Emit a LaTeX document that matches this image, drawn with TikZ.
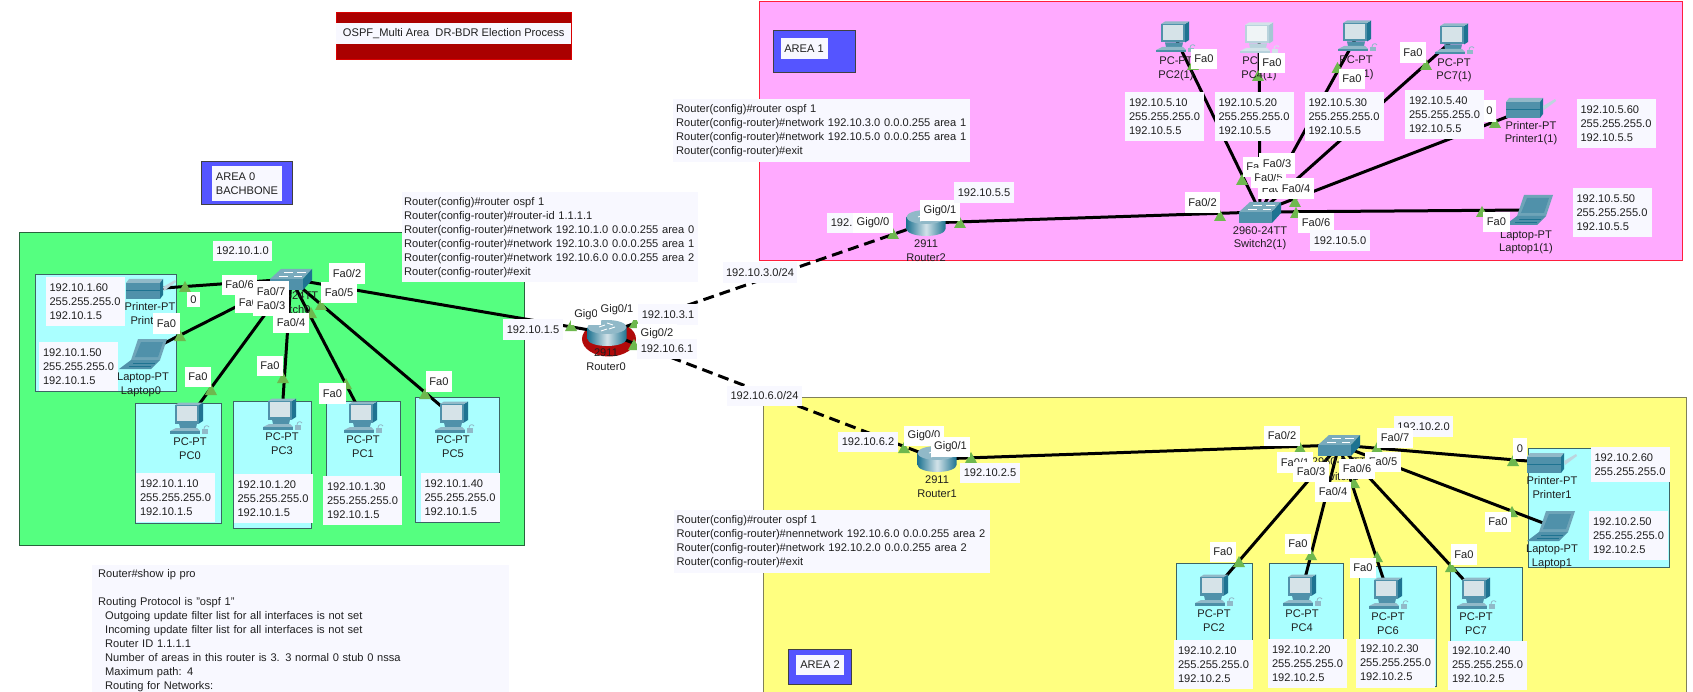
\documentclass[tikz,border=0pt]{standalone}
\usepackage{fontspec}
\setmainfont{Liberation Sans}
\begin{document}
\begin{tikzpicture}[x=1pt,y=-1pt,
  every node/.style={font=\fontsize{11.1}{14}\selectfont,text=black!88},
  areabox/.style={line width=1pt},
  tagbox/.style={draw=black!75,line width=1pt,fill=tagBlue},
  hostbox/.style={draw=hostEdge,line width=1pt,fill=hostCyan},
  lan/.style={line width=3pt,black},
  wan/.style={line width=3pt,black,dash pattern=on 11pt off 6pt},
  devtext/.style={inner sep=0pt},
  portlabel/.style={fill=white,inner xsep=3.5pt,inner ysep=0pt,minimum height=20.5pt},
  addrlabel/.style={fill=ghostBg,inner xsep=3.5pt,inner ysep=0pt,minimum height=20.5pt},
  iplabel/.style={fill=ghostBg,align=left,inner xsep=3.5pt,inner ysep=0pt,minimum width=79pt,minimum height=49pt},
  cfglabel/.style={fill=ghostBg,align=left,anchor=north west,inner xsep=3pt,inner ysep=3pt},
  upmark/.pic={\fill[markGreen] (0,-6) -- (6,5) -- (-6,5) -- cycle;},
  pcicon/.pic={
    \fill[iconDark] (10,-13) -- (14,-15.5) -- (14,3) -- (10,5.5) -- cycle;
    \fill[iconLite] (-14,-13) -- (-10,-15.5) -- (14,-15.5) -- (10,-13) -- cycle;
    \fill[iconMid] (-14,-13) rectangle (10,5.5);
    \fill[iconScreen] (-12,-12) rectangle (8,3);
    \fill[iconMid] (-10,5.5) -- (8,5.5) -- (7,10) -- (-9,10) -- cycle;
    \fill[iconLite] (-13,10) -- (8,10) -- (11,13) -- (-19,13) -- cycle;
    \fill[iconDark!80] (-19,13) rectangle (11,15.5);
    \fill[iconLite] (13,11) rectangle (19,15.5);
    \draw[iconLite,line width=0.8pt] (15,11) .. controls (15,7) and (19,7) .. (20,9);
  },
  switchicon/.pic={
    \fill[iconLite!80!iconDark] (-21,0) -- (-10,-10) -- (21,-10) -- (12,0) -- cycle;
    \fill[iconMid] (-21,0) rectangle (12,11);
    \fill[iconDark] (12,0) -- (21,-10) -- (21,1) -- (12,11) -- cycle;
    \draw[white,line width=0.7pt] (-12,-3) -- (-3,-3) (-7,-7) -- (2,-7) (3,-3) -- (11,-3) (6,-7) -- (15,-7);
  },
  routericon/.pic={
    \shade[left color=iconDark,right color=iconDark,middle color=white!60!iconLite] (-19.5,-6) -- (-19.5,6) arc[x radius=19.5,y radius=7,start angle=180,end angle=0] -- (19.5,-6) -- cycle;
    \fill[iconLite] (0,-6) ellipse[x radius=19.5,y radius=7];
    \draw[white,line width=0.8pt] (-8,-6) -- (-2,-8) (2,-4) -- (8,-6) (-6,-2) -- (0,-4) (0,-10) -- (6,-8);
  },
  printericon/.pic={
    \fill[iconLite] (-24,-6) -- (-21,-10) -- (13,-10) -- (10,-6) -- cycle;
    \fill[iconMid] (-24,-6) rectangle (10,10);
    \fill[iconDark] (10,-6) -- (13,-10) -- (13,6) -- (10,10) -- cycle;
    \draw[iconDark,line width=0.6pt] (-24,1) -- (10,1);
    \fill[iconLite!60] (13,-2) -- (25,-9) -- (26,-7) -- (14,2) -- cycle;
  },
  laptopicon/.pic={
    \fill[iconLite!70!iconDark] (-5,-15) -- (24,-15) -- (17,6) -- (-12,6) -- cycle;
    \fill[iconMid] (-2,-12) -- (20,-12) -- (15,3) -- (-8,3) -- cycle;
    \fill[iconMid] (-12,6) -- (17,6) -- (8,15) -- (-24,15) -- cycle;
    \draw[iconDark,line width=0.6pt] (-10,9) -- (12,9) (-14,12) -- (8,12);
  }]
\definecolor{tagBlue}{RGB}{85,85,255}
\definecolor{hostCyan}{RGB}{170,255,255}
\definecolor{hostEdge}{RGB}{60,100,100}
\definecolor{ghostBg}{RGB}{248,248,255}
\definecolor{markGreen}{RGB}{110,184,78}
\definecolor{iconDark}{RGB}{30,115,145}
\definecolor{iconMid}{RGB}{80,145,170}
\definecolor{iconLite}{RGB}{145,185,200}
\definecolor{iconScreen}{RGB}{214,227,232}
\definecolor{titleRed}{RGB}{170,0,0}
\path[use as bounding box,fill=white] (0,0) rectangle (1693,692);

% areas
\draw[areabox,fill={rgb,255:red,85;green,255;blue,128},draw={rgb,255:red,40;green,100;blue,60}] (19,233) rectangle (524,545);
\draw[areabox,fill={rgb,255:red,255;green,170;blue,255},draw={rgb,255:red,255;green,30;blue,60}] (759,2) rectangle (1682,261);
\draw[areabox,fill={rgb,255:red,255;green,255;blue,128},draw={rgb,255:red,128;green,128;blue,90}] (763,397) rectangle (1686,700);

% title and area tags
\draw[fill=titleRed,draw=red!85!black,line width=0.8pt] (336,12) rectangle (571.5,59);
\node[fill=ghostBg,minimum width=235pt,minimum height=21pt,inner sep=0pt] (title) at (453.7,33.5) {OSPF\_Multi Area\ \ DR-BDR Election Process};
\draw[tagbox] (201,162) rectangle (292.5,205);
\node[fill=ghostBg,align=left,minimum width=70pt,minimum height=35pt,inner sep=0pt] (areazero) at (247,183.5) {AREA 0\\BACHBONE};
\draw[tagbox] (773,31) rectangle (855,73);
\node[fill=ghostBg,minimum width=47pt,minimum height=21pt,inner sep=0pt] (areaone) at (804,48.5) {AREA 1};
\draw[tagbox] (788,649) rectangle (851,684);
\node[fill=ghostBg,minimum width=48pt,minimum height=20pt,inner sep=0pt] (areatwo) at (820,665) {AREA 2};

% host boxes
\draw[hostbox] (35,275) rectangle (176.5,391);
\draw[hostbox] (135,403) rectangle (221,523);
\draw[hostbox] (233,401) rectangle (311,528);
\draw[hostbox] (326,401) rectangle (400,520);
\draw[hostbox] (415,397) rectangle (499,522);
\draw[hostbox] (1176,563) rectangle (1252,686);
\draw[hostbox] (1269,563) rectangle (1343,686);
\draw[hostbox] (1359,566) rectangle (1436,686);
\draw[hostbox] (1450,567) rectangle (1522,686);
\draw[hostbox] (1528,448) rectangle (1669,567);

% device positions
\coordinate (router0) at (607,333);
\coordinate (router1) at (937,459);
\coordinate (router2) at (926,223);
\coordinate (switch0) at (291,279);
\coordinate (switch1) at (1339,445);
\coordinate (switch2) at (1260,212);
\coordinate (pc0) at (189,418);
\coordinate (pc3) at (282,414);
\coordinate (pc1) at (363,417);
\coordinate (pc5) at (454,417);
\coordinate (printer0) at (150,289);
\coordinate (laptop0) at (143,354);
\coordinate (pc2) at (1214,590);
\coordinate (pc4) at (1302,590);
\coordinate (pc6) at (1388,593);
\coordinate (pc7) at (1476,593);
\coordinate (printer1) at (1551,463);
\coordinate (laptop1) at (1551,526);
\coordinate (pc2b) at (1175,37);
\coordinate (pc4b) at (1259,38);
\coordinate (pc6b) at (1357,36);
\coordinate (pc7b) at (1454,39);
\coordinate (printer1b) at (1530,108);
\coordinate (laptop1b) at (1529,210);

\fill[fill={rgb,255:red,176;green,10;blue,10}] (609,339) ellipse[x radius=27,y radius=17.5];

% links
\draw[lan] (switch0) -- (router0);
\draw[lan] (switch0) -- (printer0);
\draw[lan] (switch0) -- (laptop0);
\draw[lan] (switch0) -- (pc0);
\draw[lan] (switch0) -- (pc3);
\draw[lan] (switch0) -- (pc1);
\draw[lan] (switch0) -- (pc5);
\draw[wan] (router0) -- (router2);
\draw[wan] (router0) -- (router1);
\draw[lan] (router2) -- (switch2);
\draw[lan] (router1) -- (switch1);
\draw[lan] (switch2) -- (pc2b);
\draw[lan] (switch2) -- (pc4b);
\draw[lan] (switch2) -- (pc6b);
\draw[lan] (switch2) -- (pc7b);
\draw[lan] (switch2) -- (printer1b);
\draw[lan] (switch2) -- (laptop1b);
\draw[lan] (switch1) -- (pc2);
\draw[lan] (switch1) -- (pc4);
\draw[lan] (switch1) -- (pc6);
\draw[lan] (switch1) -- (pc7);
\draw[lan] (switch1) -- (printer1);
\draw[lan] (switch1) -- (laptop1);

% link lights
\pic at (185,287) {upmark};
\pic at (180,336) {upmark};
\pic at (211,390) {upmark};
\pic at (283,378) {upmark};
\pic at (346,384) {upmark};
\pic at (425,394) {upmark};
\pic at (321,305) {upmark};
\pic at (311,313) {upmark};
\pic at (571,326) {upmark};
\pic at (635,323) {upmark};
\pic at (634,345) {upmark};
\pic at (893,234) {upmark};
\pic at (960,223) {upmark};
\pic at (1220,216) {upmark};
\pic at (1482,212) {upmark};
\pic at (1296,213) {upmark};
\pic at (1295,202) {upmark};
\pic at (1242,180) {upmark};
\pic at (1495,123) {upmark};
\pic at (1426,65) {upmark};
\pic at (1337.5,68) {upmark};
\pic at (1258,76) {upmark};
\pic at (1193,65) {upmark};
\pic at (904,448) {upmark};
\pic at (971,458) {upmark};
\pic at (1300,448) {upmark};
\pic at (1377,448) {upmark};
\pic at (1354,483) {upmark};
\pic at (1513,461) {upmark};
\pic at (1512,512) {upmark};
\pic at (1311,555) {upmark};
\pic at (1377,557) {upmark};
\pic at (1451,567) {upmark};
\pic at (1239,562) {upmark};

% device icons
\pic at (router0) {routericon};
\pic at (router1) {routericon};
\pic at (router2) {routericon};
\pic at (switch0) {switchicon};
\pic at (switch1) {switchicon};
\pic at (switch2) {switchicon};
\pic at (pc0) {pcicon};
\pic at (pc3) {pcicon};
\pic at (pc1) {pcicon};
\pic at (pc5) {pcicon};
\pic at (pc2) {pcicon};
\pic at (pc4) {pcicon};
\pic at (pc6) {pcicon};
\pic at (pc7) {pcicon};
\pic at (pc2b) {pcicon};
\begin{scope}
\colorlet{iconDark}{iconDark!40!white}
\colorlet{iconMid}{iconMid!40!white}
\colorlet{iconLite}{iconLite!40!white}
\colorlet{iconScreen}{iconScreen!40!white}
\pic at (pc4b) {pcicon};
\end{scope}
\pic at (pc6b) {pcicon};
\pic at (pc7b) {pcicon};
\pic at (printer0) {printericon};
\pic at (printer1) {printericon};
\pic at (printer1b) {printericon};
\pic at (laptop0) {laptopicon};
\pic at (laptop1) {laptopicon};
\pic at (laptop1b) {laptopicon};

% device names
\node[devtext] (r0type) at (606,353) {2911};
\node[devtext] (r0name) at (606,367) {Router0};
\node[devtext] (r1type) at (937,480) {2911};
\node[devtext] (r1name) at (937,494) {Router1};
\node[devtext] (r2type) at (926,244) {2911};
\node[devtext] (r2name) at (926,258) {Router2};
\node[devtext] (s0type) at (291,296) {2960-24TT};
\node[devtext] (s0name) at (291,310) {Switch0};
\node[devtext] (s1type) at (1339,462) {2960-24TT};
\node[devtext] (s1name) at (1339,477) {Switch1};
\node[devtext] (s2type) at (1260,231) {2960-24TT};
\node[devtext] (s2name) at (1260,245) {Switch2(1)};
\node[devtext] (p0type) at (150,307) {Printer-PT};
\node[devtext] (p0name) at (150,321) {Printer0};
\node[devtext] (l0type) at (143,378) {Laptop-PT};
\node[devtext] (l0name) at (141,392) {Laptop0};
\node[devtext] (pc0type) at (190,442) {PC-PT};
\node[devtext] (pc0name) at (190,456) {PC0};
\node[devtext] (pc3type) at (282,437) {PC-PT};
\node[devtext] (pc3name) at (282,451) {PC3};
\node[devtext] (pc1type) at (363,440) {PC-PT};
\node[devtext] (pc1name) at (363,454) {PC1};
\node[devtext] (pc5type) at (453,440) {PC-PT};
\node[devtext] (pc5name) at (453,454) {PC5};
\node[devtext] (pc2type) at (1214,614) {PC-PT};
\node[devtext] (pc2name) at (1214,628) {PC2};
\node[devtext] (pc4type) at (1302,614) {PC-PT};
\node[devtext] (pc4name) at (1302,628) {PC4};
\node[devtext] (pc6type) at (1388,617) {PC-PT};
\node[devtext] (pc6name) at (1388,631) {PC6};
\node[devtext] (pc7type) at (1476,617) {PC-PT};
\node[devtext] (pc7name) at (1476,631) {PC7};
\node[devtext] (p1type) at (1552,481) {Printer-PT};
\node[devtext] (p1name) at (1552,495) {Printer1};
\node[devtext] (l1type) at (1552,550) {Laptop-PT};
\node[devtext] (l1name) at (1552,564) {Laptop1};
\node[devtext] (pc2btype) at (1176,61) {PC-PT};
\node[devtext] (pc2bname) at (1176,76) {PC2(1)};
\node[devtext] (pc4btype) at (1259,61) {PC-PT};
\node[devtext] (pc4bname) at (1259,76) {PC4(1)};
\node[devtext] (pc6btype) at (1356,60) {PC-PT};
\node[devtext] (pc6bname) at (1356,75) {PC6(1)};
\node[devtext] (pc7btype) at (1454,63) {PC-PT};
\node[devtext] (pc7bname) at (1454,77) {PC7(1)};
\node[devtext] (p1btype) at (1531,126) {Printer-PT};
\node[devtext] (p1bname) at (1531,140) {Printer1(1)};
\node[devtext] (l1btype) at (1526,236) {Laptop-PT};
\node[devtext] (l1bname) at (1526,249) {Laptop1(1)};

% area 0 labels
\node[addrlabel] (net0) at (242.5,251) {192.10.1.0};
\node[portlabel] (sw0p6) at (239.5,285) {Fa0/6};
\node[portlabel] (sw0p1) at (253,303) {Fa0/1};
\node[portlabel] (sw0p7) at (271,291.5) {Fa0/7};
\node[portlabel] (sw0p3) at (271,306) {Fa0/3};
\node[portlabel] (sw0p4) at (291,323) {Fa0/4};
\node[portlabel] (sw0p2) at (347,273.5) {Fa0/2};
\node[portlabel] (sw0p5) at (339,292.5) {Fa0/5};
\node[portlabel,minimum height=15pt] (p0port) at (193.5,299.5) {0};
\node[portlabel] (l0port) at (166.5,323.5) {Fa0};
\node[portlabel] (pc0port) at (198,377) {Fa0};
\node[portlabel] (pc3port) at (270,366) {Fa0};
\node[portlabel] (pc1port) at (332.5,393.5) {Fa0};
\node[portlabel] (pc5port) at (439,381.5) {Fa0};
\node[iplabel] (ip60) at (85,301.5) {192.10.1.60\\255.255.255.0\\192.10.1.5};
\node[iplabel] (ip50) at (78.5,366.5) {192.10.1.50\\255.255.255.0\\192.10.1.5};
\node[iplabel] (ip10) at (175.5,497.5) {192.10.1.10\\255.255.255.0\\192.10.1.5};
\node[iplabel] (ip20) at (273,498.5) {192.10.1.20\\255.255.255.0\\192.10.1.5};
\node[iplabel] (ip30) at (362.5,500.5) {192.10.1.30\\255.255.255.0\\192.10.1.5};
\node[iplabel] (ip40) at (460,497.5) {192.10.1.40\\255.255.255.0\\192.10.1.5};

% router 0 labels
\node[addrlabel] (r0a) at (533,329.5) {192.10.1.5};
\node[portlabel] (r0p0) at (586,315) {Gig0};
\node[portlabel] (r0p1) at (617,310) {Gig0/1};
\node[addrlabel] (r0b) at (668,314.5) {192.10.3.1};
\node[portlabel] (r0p2) at (657,334) {Gig0/2};
\node[addrlabel] (r0c) at (667,349) {192.10.6.1};
\node[addrlabel] (wan3) at (760,272.5) {192.10.3.0/24};
\node[addrlabel] (wan6) at (764.5,396) {192.10.6.0/24};

% area 1 labels
\node[addrlabel] (r2a) at (857,223) {192.10.3.2};
\node[portlabel] (r2p0) at (873,223) {Gig0/0};
\node[portlabel] (r2p1) at (940,210.5) {Gig0/1};
\node[addrlabel] (r2b) at (984,192.5) {192.10.5.5};
\node[portlabel] (s2p2) at (1202.5,202.5) {Fa0/2};
\node[portlabel] (s2p6) at (1316,223) {Fa0/6};
\node[addrlabel] (net5) at (1340,240.5) {192.10.5.0};
\node[portlabel] (s2p1) at (1260.5,167) {Fa0/1};
\node[portlabel] (s2p7) at (1276,189) {Fa0/7};
\node[portlabel] (s2p5) at (1268.5,178) {Fa0/5};
\node[portlabel] (s2p3) at (1277,163.5) {Fa0/3};
\node[portlabel] (s2p4) at (1296,188.5) {Fa0/4};
\node[portlabel] (pc2bport) at (1204,59) {Fa0};
\node[portlabel] (pc4bport) at (1272,63) {Fa0};
\node[portlabel] (pc6bport) at (1352,79) {Fa0};
\node[portlabel] (pc7bport) at (1413,52.5) {Fa0};
\node[portlabel] (l1bport) at (1496.5,222) {Fa0};
\node[portlabel,minimum height=22pt] (p1bport) at (1489.5,111) {0};
\node[iplabel] (ip510) at (1164.5,116.5) {192.10.5.10\\255.255.255.0\\192.10.5.5};
\node[iplabel] (ip520) at (1254,116.5) {192.10.5.20\\255.255.255.0\\192.10.5.5};
\node[iplabel] (ip530) at (1344,116.5) {192.10.5.30\\255.255.255.0\\192.10.5.5};
\node[iplabel] (ip540) at (1444.5,115) {192.10.5.40\\255.255.255.0\\192.10.5.5};
\node[iplabel] (ip560) at (1616,123.5) {192.10.5.60\\255.255.255.0\\192.10.5.5};
\node[iplabel] (ip550) at (1612,212.5) {192.10.5.50\\255.255.255.0\\192.10.5.5};

% area 2 labels
\node[addrlabel] (r1a) at (868,442) {192.10.6.2};
\node[portlabel] (r1p0) at (924,436) {Gig0/0};
\node[portlabel] (r1p1) at (950.5,447) {Gig0/1};
\node[addrlabel] (r1b) at (990,473) {192.10.2.5};
\node[addrlabel] (net2) at (1423.5,426.5) {192.10.2.0};
\node[portlabel] (s1p7) at (1395,438) {Fa0/7};
\node[portlabel] (s1p2) at (1282,436) {Fa0/2};
\node[portlabel] (s1p5) at (1383,462) {Fa0/5};
\node[portlabel] (s1p6) at (1357,469) {Fa0/6};
\node[portlabel] (s1p1) at (1295,462.5) {Fa0/1};
\node[portlabel] (s1p3) at (1311,472) {Fa0/3};
\node[portlabel] (s1p4) at (1333,492) {Fa0/4};
\node[portlabel,minimum height=21pt] (p1port) at (1520,448.5) {0};
\node[portlabel] (l1port) at (1498,522) {Fa0};
\node[portlabel] (pc2port) at (1223,552) {Fa0};
\node[portlabel] (pc4port) at (1298,544) {Fa0};
\node[portlabel] (pc6port) at (1363,568) {Fa0};
\node[portlabel] (pc7port) at (1464,554.5) {Fa0};
\node[iplabel,minimum height=35pt] (ip260) at (1630,464.5) {192.10.2.60\\255.255.255.0};
\node[iplabel] (ip250) at (1628.5,535.5) {192.10.2.50\\255.255.255.0\\192.10.2.5};
\node[iplabel] (ip210) at (1213.5,664.5) {192.10.2.10\\255.255.255.0\\192.10.2.5};
\node[iplabel] (ip220) at (1307.5,663.5) {192.10.2.20\\255.255.255.0\\192.10.2.5};
\node[iplabel] (ip230) at (1395.5,663) {192.10.2.30\\255.255.255.0\\192.10.2.5};
\node[iplabel] (ip240) at (1487.5,665) {192.10.2.40\\255.255.255.0\\192.10.2.5};

% router configs
\node[cfglabel,inner xsep=2pt,text width=292pt,minimum height=90pt] (cfg0) at (402,192) {Router(config)\#router ospf 1\\Router(config-router)\#router-id 1.1.1.1\\Router(config-router)\#network 192.10.1.0 0.0.0.255 area 0\\Router(config-router)\#network 192.10.3.0 0.0.0.255 area 1\\Router(config-router)\#network 192.10.6.0 0.0.0.255 area 2\\Router(config-router)\#exit};
\node[cfglabel,text width=291pt,minimum height=63pt] (cfg1) at (673,99) {Router(config)\#router ospf 1\\Router(config-router)\#network 192.10.3.0 0.0.0.255 area 1\\Router(config-router)\#network 192.10.5.0 0.0.0.255 area 1\\Router(config-router)\#exit};
\node[cfglabel,text width=310pt,minimum height=63pt] (cfg2) at (673.5,510) {Router(config)\#router ospf 1\\Router(config-router)\#nennetwork 192.10.6.0 0.0.0.255 area 2\\Router(config-router)\#network 192.10.2.0 0.0.0.255 area 2\\Router(config-router)\#exit};
\node[cfglabel,inner xsep=6pt,inner ysep=4pt,text width=405pt] (showip) at (92,565) {Router\#show ip pro\\\mbox{}\\Routing Protocol is "ospf 1"\\\hspace*{7pt}Outgoing update filter list for all interfaces is not set\\\hspace*{7pt}Incoming update filter list for all interfaces is not set\\\hspace*{7pt}Router ID 1.1.1.1\\\hspace*{7pt}Number of areas in this router is 3. 3 normal 0 stub 0 nssa\\\hspace*{7pt}Maximum path: 4\\\hspace*{7pt}Routing for Networks:};
\end{tikzpicture}
\end{document}
